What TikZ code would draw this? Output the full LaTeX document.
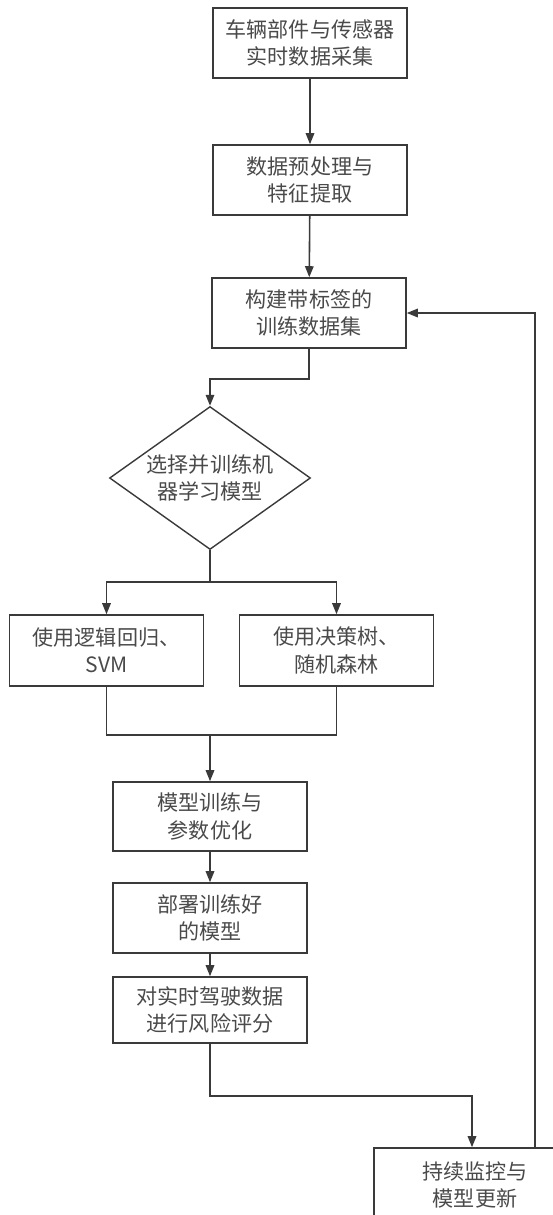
\documentclass[tikz,border=0pt]{standalone}
\usepackage{fontspec}
\setmainfont{Noto Sans CJK SC}
\usetikzlibrary{positioning, calc, shapes.geometric, arrows.meta}
\definecolor{inkgray}{HTML}{3A3A3A}
\definecolor{textgray}{HTML}{4A4A4A}

\begin{document}
\begin{tikzpicture}[
            x=0.02cm, y=-0.02cm,
            stepbox/.style={rectangle, draw=inkgray, line width=0.9pt, minimum width=3.88cm, minimum height=1.4cm, inner sep=0pt, align=center, text=textgray, font=\fontsize{12}{15.5}\selectfont},
            choice/.style={diamond, draw=inkgray, line width=0.8pt, minimum width=4.02cm, minimum height=2.86cm, shape aspect=1.4, inner sep=0pt, align=center, text=textgray, font=\fontsize{12}{15}\selectfont},
            flow/.style={-{Triangle[length=2.2mm, width=1.7mm]}, draw=inkgray, line width=0.9pt},
            wire/.style={draw=inkgray, line width=0.9pt}
        ]
            \useasboundingbox (0,0) rectangle (552,1215);

            % --- 1. ノード ---
            \node[stepbox] (collect) at (310,43) {车辆部件与传感器\\实时数据采集};
            \node[stepbox] (prep) at (310,180) {数据预处理与\\特征提取};
            \node[stepbox] (label) at (309,313) {构建带标签的\\训练数据集};
            \node[choice] (pick) at (210,478) {选择并训练机\\器学习模型};
            \node[stepbox, minimum height=1.42cm] (logit) at (106.5,650.5) {使用逻辑回归、\\SVM};
            \node[stepbox, minimum height=1.42cm] (forest) at (336.5,650.5) {使用决策树、\\随机森林};
            \node[stepbox, minimum height=1.38cm] (tune) at (210,816.5) {模型训练与\\参数优化};
            \node[stepbox] (deploy) at (210,918) {部署训练好\\的模型};
            \node[stepbox, minimum height=1.32cm] (score) at (210,1010) {对实时驾驶数据\\进行风险评分};
            \node[stepbox, minimum width=4.04cm, minimum height=1.48cm] (monitor) at (475,1185) {持续监控与\\模型更新};

            % --- 2. 接続 ---
            \draw[flow] (collect) -- (prep);
            \draw[flow] (prep) -- (label);
            \draw[flow] (label.south) -- ++(0,30) -| (pick.north);
            \draw[wire] (pick.south) -- ++(0,32) coordinate (fork);
            \draw[flow] (fork) -| (logit.north);
            \draw[flow] (fork) -| (forest.north);
            \coordinate (merge) at (210,735);
            \draw[wire] (logit.south) |- (merge) -| (forest.south);
            \draw[flow] (merge) -- (tune);
            \draw[flow] (tune) -- (deploy);
            \draw[flow] (deploy) -- (score);
            \draw[flow] (score.south) -- ++(0,52) -| ([xshift=-0.06cm]monitor.north);

            % --- 3. フィードバック ---
            \draw[flow] ([xshift=1.2cm]monitor.north) |- (label.east);
        \end{tikzpicture}
\end{document}
